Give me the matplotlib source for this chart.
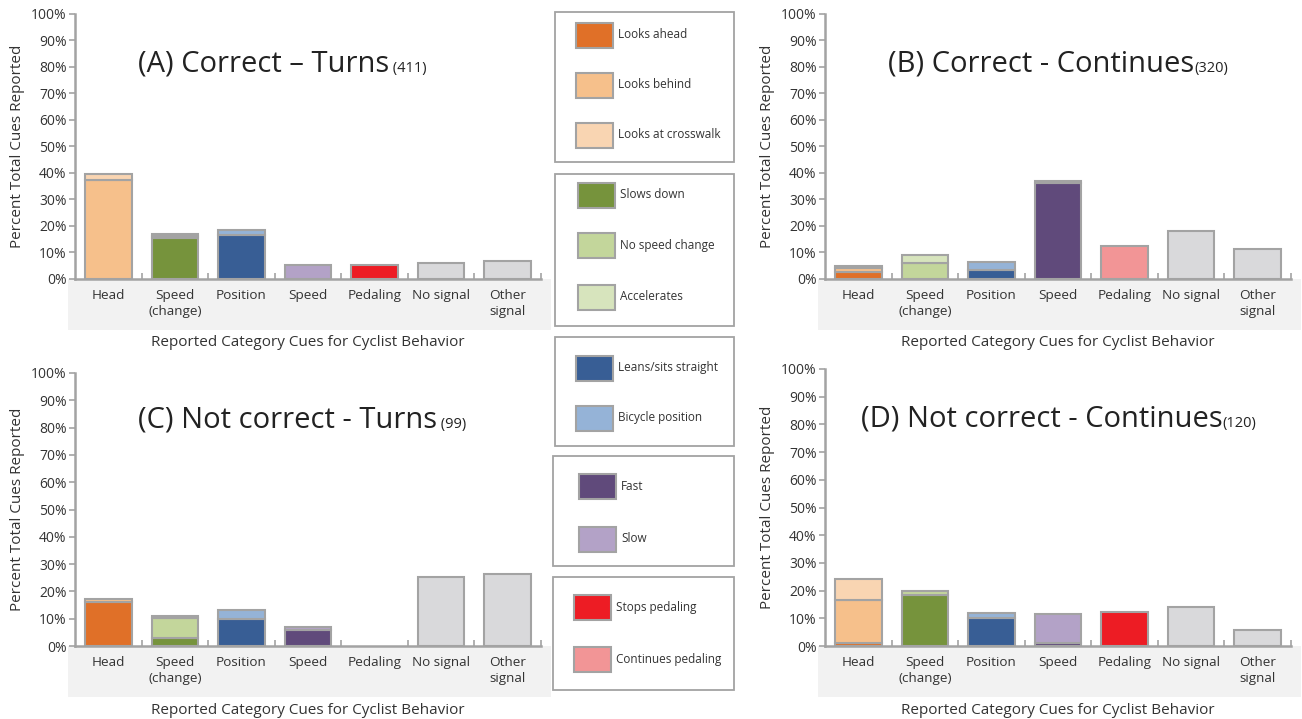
import matplotlib
matplotlib.use("Agg")
import matplotlib.pyplot as plt
from matplotlib.patches import Rectangle

plt.rcParams['font.family'] = ['Open Sans', 'DejaVu Sans']

W, H = 1302, 719

categories = ["Head", "Speed\n(change)", "Position", "Speed", "Pedaling", "No signal", "Other\nsignal"]
panel_titles = ["(A) Correct \u2013 Turns", "(B) Correct - Continues",
                "(C) Not correct - Turns", "(D) Not correct - Continues"]
panel_counts = [" (411)", "(320)", " (99)", "(120)"]
yticks = [0, 10, 20, 30, 40, 50, 60, 70, 80, 90, 100]
ytick_labels = ["0%", "10%", "20%", "30%", "40%", "50%", "60%", "70%", "80%", "90%", "100%"]

# values per panel: A, B, C, D  (percent of total cues)
looks_ahead        = [0.0, 2.6, 16.1, 1.0]
looks_behind       = [37.4, 1.5, 1.1, 15.6]
looks_crosswalk    = [2.1, 0.9, 0.0, 7.6]
slows_down         = [15.3, 0.0, 3.0, 18.3]
no_speed_change    = [0.9, 6.0, 7.2, 1.7]
accelerates        = [0.7, 3.0, 0.9, 0.0]
leans_straight     = [16.6, 3.4, 9.9, 10.0]
bicycle_position   = [1.9, 3.1, 3.3, 1.8]
fast               = [0.0, 36.3, 5.9, 1.2]
slow               = [5.4, 0.8, 1.2, 10.4]
stops_pedaling     = [5.4, 0.0, 0.0, 12.4]
continues_pedaling = [0.0, 12.6, 0.0, 0.0]
no_signal          = [6.2, 18.2, 25.4, 14.2]
other_signal       = [6.9, 11.2, 26.4, 5.8]

# (category index, label, color, values)
series = [
    (0, "Looks ahead", "#e07028", looks_ahead),
    (0, "Looks behind", "#f6c08b", looks_behind),
    (0, "Looks at crosswalk", "#f9d5b2", looks_crosswalk),
    (1, "Slows down", "#76933c", slows_down),
    (1, "No speed change", "#c3d69b", no_speed_change),
    (1, "Accelerates", "#d7e4bd", accelerates),
    (2, "Leans/sits straight", "#385e95", leans_straight),
    (2, "Bicycle position", "#95b3d7", bicycle_position),
    (3, "Fast", "#604a7b", fast),
    (3, "Slow", "#b3a2c7", slow),
    (4, "Stops pedaling", "#ed1c24", stops_pedaling),
    (4, "Continues pedaling", "#f29596", continues_pedaling),
    (5, "No signal", "#d9d9db", no_signal),
    (6, "Other signal", "#d9d9db", other_signal),
]

EDGE = "#a3a3a3"
TXT = "#333333"

fig = plt.figure(figsize=(W / 100, H / 100), dpi=100)

# axes rectangles in pixels: left, right, top(100%), bottom(0%)
boxes = [(75, 541, 14, 279), (825, 1291, 14, 279), (75, 541, 373, 646), (825, 1291, 369, 646)]
title_pos = [(138, 64), (888, 64), (138, 420), (861, 419)]

for p, (l, r, t, b) in enumerate(boxes):
    ax = fig.add_axes([l / W, 1 - b / H, (r - l) / W, (b - t) / H])
    bottoms = [0.0] * len(categories)
    for ci, lab, col, vals in series:
        v = vals[p]
        if v <= 0:
            continue
        ax.bar(ci, v, width=0.7, bottom=bottoms[ci], color=col, edgecolor=EDGE,
               linewidth=1.5, zorder=3)
        bottoms[ci] += v
    ax.set_xlim(-0.5, len(categories) - 0.5)
    ax.set_ylim(0, 100)
    ax.set_yticks(yticks)
    ax.set_yticklabels(ytick_labels, fontsize=10, color=TXT)
    ax.set_xticks(range(len(categories)))
    ax.set_xticklabels(categories, fontsize=9.7, color=TXT, linespacing=1.3)
    ax.set_xticks([i + 0.5 for i in range(len(categories))], minor=True)
    ax.tick_params(axis='x', which='major', length=0, pad=7)
    ax.tick_params(axis='x', which='minor', length=4, direction='in', color=EDGE, width=1.2)
    ax.tick_params(axis='y', length=4, direction='out', color=EDGE, width=1.2, pad=2)
    for s in ['top', 'right']:
        ax.spines[s].set_visible(False)
    for s in ['left', 'bottom']:
        ax.spines[s].set_color(EDGE)
        ax.spines[s].set_linewidth(1.8)
        ax.spines[s].set_zorder(4)
    ax.set_facecolor('none')
    ax.set_ylabel("Percent Total Cues Reported", fontsize=11, color=TXT, labelpad=4)
    hpx = b - t
    wpx = r - l
    band_right = min(W, r + 10)
    ax.add_patch(Rectangle((-7 / wpx, -51 / hpx), (band_right - l + 7) / wpx, 51 / hpx,
                           transform=ax.transAxes, facecolor="#f2f2f2", edgecolor='none',
                           clip_on=False, zorder=0))
    ax.annotate("Reported Category Cues for Cyclist Behavior", xy=(0.5, 0),
                xycoords='axes fraction', xytext=(0, -64 * 0.72), textcoords='offset points',
                ha='center', va='center', fontsize=11, color=TXT)
    tx, ty = title_pos[p]
    tt = fig.text(tx / W, 1 - ty / H, panel_titles[p], fontsize=21, color="#222222",
                  ha='left', va='center')
    ax.annotate(panel_counts[p], xy=(1, 0), xycoords=tt, xytext=(0, 2), textcoords='offset points',
                ha='left', va='bottom', fontsize=10.5, color="#222222")

# legend column
lg = fig.add_axes([0, 0, 1, 1])
lg.set_xlim(0, W)
lg.set_ylim(H, 0)
lg.axis('off')
legend_boxes = [(555, 12, 734, 162), (555, 174, 734, 326), (555, 337, 734, 446),
                (553, 456, 734, 566), (553, 577, 734, 690)]
legend_groups = [[0, 1, 2], [3, 4, 5], [6, 7], [8, 9], [10, 11]]
legend_rows = [[35, 85, 135], [195, 245, 297], [368, 418], [486, 539], [607, 659]]
legend_text_x = [618, 620, 618, 621, 616]
for (x0, y0, x1, y1), grp, rows, txx in zip(legend_boxes, legend_groups, legend_rows, legend_text_x):
    lg.add_patch(Rectangle((x0, y0), x1 - x0, y1 - y0, facecolor='white', edgecolor=EDGE, linewidth=1.3))
    for si, yc in zip(grp, rows):
        _, lab, col, _ = series[si]
        lg.add_patch(Rectangle((txx - 42, yc - 12.5), 37, 25, facecolor=col, edgecolor=EDGE, linewidth=1.5))
        lg.text(txx, yc, lab, fontsize=8.5, color=TXT, ha='left', va='center')

fig.savefig("out.png", dpi=100)
